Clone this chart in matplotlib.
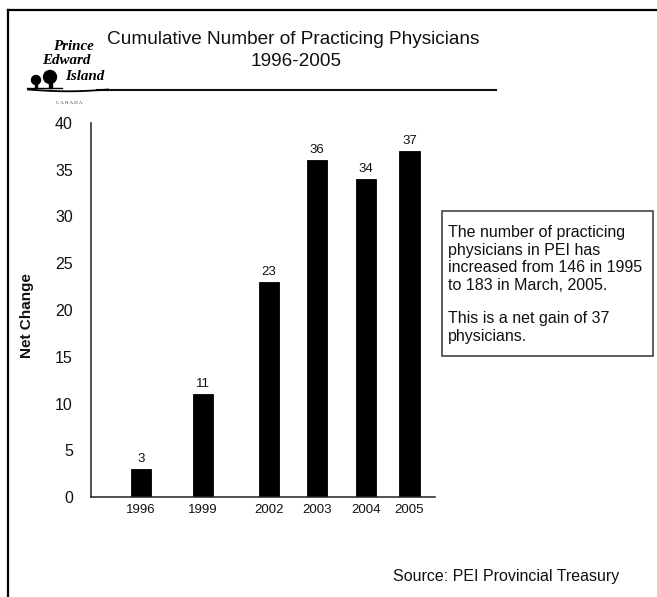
import matplotlib
matplotlib.use("Agg")
import matplotlib.pyplot as plt
from matplotlib.patches import Rectangle, Circle
from matplotlib.lines import Line2D
import numpy as np

# Data
years = ["1996", "1999", "2002", "2003", "2004", "2005"]
net_change = [3, 11, 23, 36, 34, 37]
y_ticks = [0, 5, 10, 15, 20, 25, 30, 35, 40]

title_lines = ["Cumulative Number of Practicing Physicians", "1996-2005"]
note_para1 = ("The number of practicing\nphysicians in PEI has\n"
              "increased from 146 in 1995\nto 183 in March, 2005.")
note_para2 = "This is a net gain of 37\nphysicians."
source_text = "Source: PEI Provincial Treasury"

W, H = 657, 597
FONT = "Liberation Sans"

fig = plt.figure(figsize=(W / 100, H / 100), dpi=100)
fig.patch.set_facecolor("white")

# Uneven slot spacing for the year categories
slots = [0, 1.3, 2.67, 3.67, 4.69, 5.6]

ax = fig.add_axes([91 / W, 1 - 497 / H, (435 - 91) / W, (497 - 123) / H])
ax.bar(slots, net_change, width=0.42, color="black", edgecolor="black",
       linewidth=0.6)
for x, v in zip(slots, net_change):
    ax.annotate(str(v), (x, v), xytext=(0, 3), textcoords="offset points",
                ha="center", va="bottom", fontsize=9.5, family=FONT, color="#111")

ax.set_xlim(-1.035, 6.13)
ax.set_ylim(0, 40)
ax.set_xticks(slots)
ax.set_xticklabels(years, family=FONT, fontsize=9.5, color="#111")
ax.set_yticks(y_ticks)
ax.set_yticklabels([str(t) for t in y_ticks], family=FONT, fontsize=11.5, color="#111")
ax.tick_params(axis="x", length=0, pad=5)
ax.tick_params(axis="y", length=0, pad=13)
for s in ["top", "right"]:
    ax.spines[s].set_visible(False)
for s in ["left", "bottom"]:
    ax.spines[s].set_linewidth(1.1)
    ax.spines[s].set_color("#222")
ax.set_facecolor("none")

# Overlay in pixel coordinates for page decorations and text
ov = fig.add_axes([0, 0, 1, 1], zorder=-1)
ov.set_xlim(0, W)
ov.set_ylim(H, 0)
ov.axis("off")

# Page frame (top and left edges)
ov.add_line(Line2D([7.5, W], [10, 10], color="black", lw=1.6))
ov.add_line(Line2D([7.5, 7.5], [10, H], color="black", lw=1.6))

# Title and rule below it
ov.text(293, 40, title_lines[0], ha="center", va="center", fontsize=13.7,
        family=FONT, color="#111")
ov.text(296, 61, title_lines[1], ha="center", va="center", fontsize=13.7,
        family=FONT, color="#111")
ov.add_line(Line2D([97, 496], [90, 90], color="#111", lw=1.5))

# Y axis label
ov.text(27, 316, "Net Change", rotation=90, ha="center", va="center",
        fontsize=11, fontweight="bold", family=FONT, color="#111")

# Note box
ov.add_patch(Rectangle((442, 211), 653 - 442, 356 - 211, fill=False,
                       edgecolor="#333", lw=1.1))
ov.text(448, 225, note_para1, ha="left", va="top", fontsize=11.5,
        family=FONT, color="#111", linespacing=1.22)
ov.text(448, 311, note_para2, ha="left", va="top", fontsize=11.5,
        family=FONT, color="#111", linespacing=1.22)

# Source line
ov.text(393, 577, source_text, ha="left", va="center", fontsize=11.5,
        family=FONT, color="#111")

# Provincial logo
SERIF = "Liberation Serif"
logo_kw = dict(ha="center", va="center", fontsize=10.8, style="italic",
               fontweight="bold", family=SERIF, color="black")
ov.text(73, 46, "Prince", **logo_kw)
ov.text(66, 61, "Edward", **logo_kw)
ov.text(85, 76, "Island", **logo_kw)
# trees
ov.add_patch(Circle((50, 77), 6.5, color="black"))
ov.add_patch(Rectangle((48.5, 80), 3, 8, color="black"))
ov.add_patch(Circle((36, 80), 4.5, color="black"))
ov.add_patch(Rectangle((35, 82), 2, 6, color="black"))
# swoosh under the name
sx = np.linspace(28, 108, 60)
sy = 89.5 + 1.8 * np.sin((sx - 28) / 80 * np.pi)
ov.add_line(Line2D(sx, sy, color="black", lw=1.3))
ov.add_line(Line2D([27, 62], [88, 88], color="black", lw=1.0))
ov.text(69, 103, "C A N A D A", ha="center", va="center", fontsize=3.6,
        family=SERIF, color="#333")

fig.savefig("out.png", dpi=100, facecolor="white")
